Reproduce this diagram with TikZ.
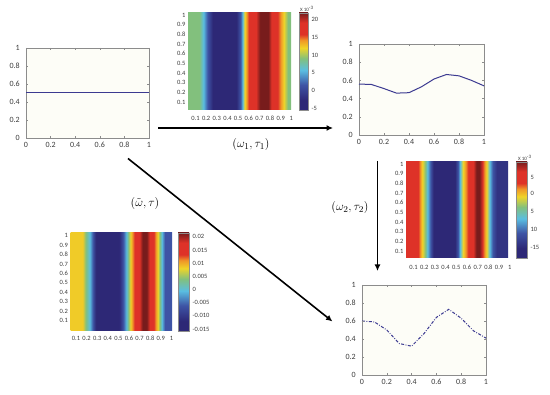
\documentclass[tikz,border=0pt]{standalone}
\usepackage{fontspec}
\newfontfamily\tickfont{Carlito}
\usepackage{amsmath}
\usetikzlibrary{arrows.meta}
\definecolor{jA}{RGB}{45,40,118}
\definecolor{jB}{RGB}{62,84,165}
\definecolor{jC}{RGB}{90,190,225}
\definecolor{jD}{RGB}{130,192,125}
\definecolor{jE}{RGB}{240,212,40}
\definecolor{jF}{RGB}{240,150,40}
\definecolor{jG}{RGB}{222,50,40}
\definecolor{jH}{RGB}{120,28,28}
\definecolor{plotbg}{RGB}{253,253,247}
\definecolor{axgrey}{RGB}{140,140,140}
\definecolor{tickgrey}{RGB}{60,60,60}
\definecolor{lineblue}{RGB}{60,58,145}

% colour bar, bottom to top
\pgfdeclareverticalshading{jet}{100bp}{color(0bp)=(jA); color(30bp)=(jA); color(38bp)=(jB); color(45.5bp)=(jC); color(51.5bp)=(jD); color(57bp)=(jE); color(61bp)=(jF); color(64bp)=(jG); color(70bp)=(jG); color(75bp)=(jH); color(100bp)=(jH)}
% heat maps, left to right
\pgfdeclarehorizontalshading{hmone}{100bp}{color(0bp)=(jD); color(30.5bp)=(jD); color(32.5bp)=(jC); color(34.5bp)=(jB); color(37bp)=(jA); color(48.5bp)=(jA); color(50.5bp)=(jB); color(51.5bp)=(jC); color(52.5bp)=(jE); color(53.5bp)=(jF); color(54.5bp)=(jG); color(58bp)=(jG); color(60bp)=(jH); color(64bp)=(jH); color(65.5bp)=(jG); color(68.5bp)=(jG); color(70bp)=(jF); color(71.5bp)=(jE); color(73.5bp)=(jD); color(100bp)=(jD)}
\pgfdeclarehorizontalshading{hmtwo}{100bp}{color(0bp)=(jG); color(31bp)=(jG); color(32bp)=(jF); color(33bp)=(jE); color(34.5bp)=(jD); color(35.5bp)=(jC); color(37bp)=(jB); color(38.5bp)=(jA); color(49bp)=(jA); color(50.5bp)=(jB); color(51.5bp)=(jC); color(53bp)=(jE); color(54.25bp)=(jF); color(55.5bp)=(jG); color(58bp)=(jG); color(59.5bp)=(jH); color(61bp)=(jH); color(62.5bp)=(jG); color(63.5bp)=(jF); color(64.5bp)=(jE); color(66bp)=(jC); color(67.5bp)=(jB); color(69.5bp)=(jA!75!jB); color(100bp)=(jA!75!jB)}
\pgfdeclarehorizontalshading{hmthree}{100bp}{color(0bp)=(jE!85!jF); color(31bp)=(jE!85!jF); color(32.5bp)=(jD); color(34.5bp)=(jC); color(36bp)=(jB); color(37.5bp)=(jA); color(49bp)=(jA); color(51bp)=(jB); color(52.5bp)=(jC); color(53.5bp)=(jD); color(54.5bp)=(jE); color(55.5bp)=(jF); color(56.5bp)=(jG); color(59bp)=(jG); color(60.5bp)=(jH); color(62.5bp)=(jH); color(64bp)=(jG); color(66bp)=(jG); color(67bp)=(jF); color(68bp)=(jE); color(69bp)=(jD); color(70bp)=(jC); color(71.5bp)=(jB); color(100bp)=(jB)}

\begin{document}
\begin{tikzpicture}[
  x=1pt, y=-1pt,
  ax/.style={draw=axgrey, line width=0.5pt, fill=plotbg, inner sep=0, outer sep=0},
  tick/.style={draw=axgrey, line width=0.4pt},
  tk/.style={font=\tickfont\fontsize{8}{9}\selectfont, text=tickgrey, inner sep=1pt},
  hk/.style={font=\tickfont\fontsize{6.5}{7}\selectfont, text=tickgrey, inner sep=0.5pt},
  ex/.style={font=\tickfont\fontsize{5}{6}\selectfont, text=tickgrey, inner sep=0},
  hm/.style={shade, inner sep=0, outer sep=0},
  cb/.style={shade, shading=jet, draw=axgrey, line width=0.3pt, inner sep=0, outer sep=0},
  ar/.style={-{Latex[length=6.5pt,width=6pt]}, line width=1.6pt},
  lb/.style={font=\fontsize{13}{15}\selectfont, inner sep=1pt}
]
\fill[white] (0,0) rectangle (550,395);
\useasboundingbox (0,0) rectangle (550,395);

% line plots
\node[ax, minimum width=123pt, minimum height=90pt] (p1) at (87.5,93) {};
\node[ax, minimum width=125pt, minimum height=91pt] (p2) at (421.5,89.5) {};
\node[ax, minimum width=124pt, minimum height=90pt] (p3) at (424,330) {};
\begin{scope}[shift={(p1.south west)}, x=123pt, y=90pt]
  \draw[lineblue, line width=1pt] (0,0.5) -- (1,0.5);
  \foreach \v [count=\i] in {0,0.2,0.4,0.6,0.8,1} {
    \draw[tick] (\v,0) -- ++(0,2pt) (\v,1) -- ++(0,-2pt) (0,\v) -- ++(2pt,0) (1,\v) -- ++(-2pt,0);
    \node[tk, anchor=east, xshift=-5pt] (p1y\i) at (0,\v) {\v};
    \node[tk, anchor=north, yshift=-3pt] (p1x\i) at (\v,0) {\v};
  }
\end{scope}
\begin{scope}[shift={(p2.south west)}, x=125pt, y=91pt]
  \draw[lineblue, line width=1pt] plot coordinates {(0,0.56) (0.1,0.555) (0.2,0.51) (0.3,0.46) (0.4,0.465) (0.5,0.53) (0.6,0.615) (0.7,0.665) (0.8,0.65) (0.9,0.6) (1,0.54)};
  \foreach \v [count=\i] in {0,0.2,0.4,0.6,0.8,1} {
    \draw[tick] (\v,0) -- ++(0,2pt) (\v,1) -- ++(0,-2pt) (0,\v) -- ++(2pt,0) (1,\v) -- ++(-2pt,0);
    \node[tk, anchor=east, xshift=-5pt] (p2y\i) at (0,\v) {\v};
    \node[tk, anchor=north, yshift=-3pt] (p2x\i) at (\v,0) {\v};
  }
\end{scope}
\begin{scope}[shift={(p3.south west)}, x=124pt, y=90pt]
  \draw[lineblue, line width=1pt, dash pattern=on 3pt off 1.5pt on 0.8pt off 1.5pt] plot coordinates {(0,0.6) (0.1,0.59) (0.2,0.5) (0.3,0.35) (0.4,0.32) (0.5,0.46) (0.6,0.64) (0.7,0.73) (0.8,0.63) (0.9,0.49) (1,0.41)};
  \foreach \v [count=\i] in {0,0.2,0.4,0.6,0.8,1} {
    \draw[tick] (\v,0) -- ++(0,2pt) (\v,1) -- ++(0,-2pt) (0,\v) -- ++(2pt,0) (1,\v) -- ++(-2pt,0);
    \node[tk, anchor=east, xshift=-5pt] (p3y\i) at (0,\v) {\v};
    \node[tk, anchor=north, yshift=-3pt] (p3x\i) at (\v,0) {\v};
  }
\end{scope}

% heat maps and colour bars
\node[hm, shading=hmone, minimum width=103pt, minimum height=97pt] (h1) at (239.5,61.5) {};
\node[cb, minimum width=9pt, minimum height=97pt] (c1) at (303.5,61.5) {};
\node[hm, shading=hmtwo, minimum width=102pt, minimum height=96pt] (h2) at (457,210) {};
\node[cb, minimum width=11pt, minimum height=96pt] (c2) at (521.5,210) {};
\node[hm, shading=hmthree, minimum width=101.5pt, minimum height=98pt] (h3) at (121.25,282) {};
\node[cb, minimum width=11pt, minimum height=98pt] (c3) at (183.5,282) {};
\foreach \t [count=\i] in {1,0.9,0.8,0.7,0.6,0.5,0.4,0.3,0.2,0.1} {
  \node[hk, anchor=east] (h1y\i) at (186,{15+(\i-1)*9.7}) {\t};
  \node[hk, anchor=east] (h2y\i) at (404,{164+(\i-1)*9.67}) {\t};
  \node[hk, anchor=east] (h3y\i) at (68.5,{235.7+(\i-1)*9.44}) {\t};
}
\foreach \t [count=\i] in {0.1,0.2,0.3,0.4,0.5,0.6,0.7,0.8,0.9,1} {
  \node[hk] (h1x\i) at ({195.5+(\i-1)*10.65},118) {\t};
  \node[hk] (h2x\i) at ({413.5+(\i-1)*10.7},267) {\t};
  \node[hk] (h3x\i) at ({76+(\i-1)*10.6},338) {\t};
}
\foreach \t/\py [count=\i] in {20/19,15/37,10/55,5/72,0/90,-5/108}
  \node[hk, anchor=west] (c1t\i) at (311,\py) {\t};
\foreach \t/\py [count=\i] in {5/177,0/193.5,5/211.7,10/229.3,-15/247.3}
  \node[hk, anchor=west] (c2t\i) at (530,\py) {\t};
\foreach \t/\py [count=\i] in {0.02/236.7,0.015/250,0.01/263.3,0.005/276.7,0/289.3,-0.005/302.3,-0.010/315.7,-0.015/329}
  \node[hk, anchor=west] (c3t\i) at (192,\py) {\t};
\node[ex, anchor=west] (c1e) at (300,9) {X 10\textsuperscript{-3}};
\node[ex, anchor=west] (c2e) at (518,158) {X 10\textsuperscript{-3}};

% arrows
\coordinate (a1s) at (158,128);
\coordinate (a1e) at (333,128);
\coordinate (a2s) at (377.5,161);
\coordinate (a2e) at (377.5,271);
\coordinate (a3s) at (128,158.5);
\coordinate (a3e) at (332.5,321.5);
\draw[ar] (a1s) -- (a1e);
\draw[ar] (a2s) -- (a2e);
\draw[ar] (a3s) -- (a3e);
\node[lb] (l1) at (251,145) {$(\omega_1,\tau_1)$};
\node[lb] (l2) at (350,208) {$(\omega_2,\tau_2)$};
\node[lb] (l3) at (145,204) {$(\tilde{\omega},\tau)$};
\end{tikzpicture}
\end{document}
